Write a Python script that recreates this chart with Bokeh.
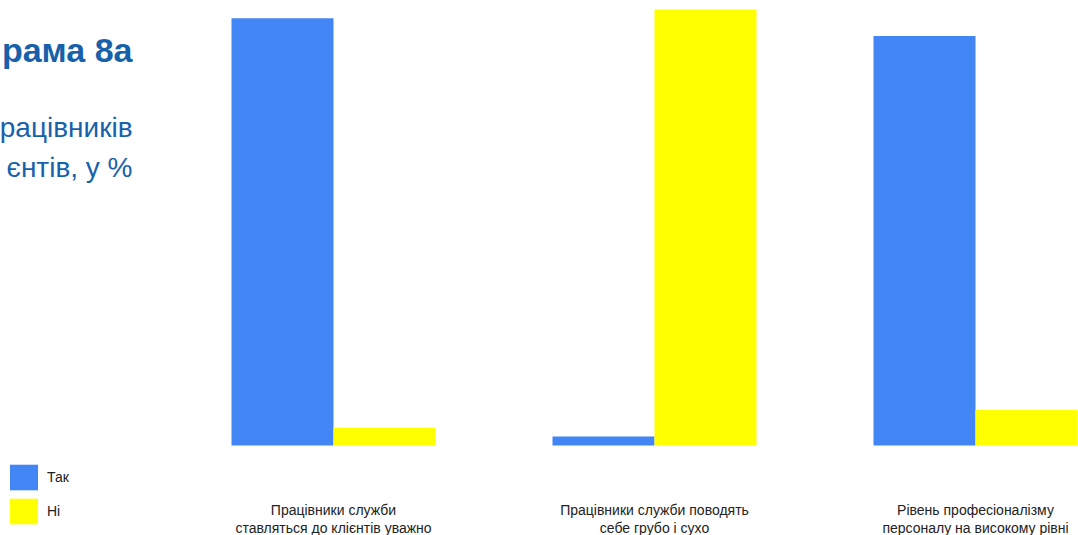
from bokeh.plotting import figure
from bokeh.models import Range1d, Legend, LegendItem, ColumnDataSource
from bokeh.core.properties import value
from bokeh.embed import file_html
from bokeh.resources import INLINE

categories = [
    "Працівники служби\nставляться до клієнтів уважно",
    "Працівники служби поводять\nсебе грубо і сухо",
    "Рівень професіоналізму\nперсоналу на високому рівні",
]
series_names = ["Так", "Ні"]
tak = [96, 2, 92]
ni = [4, 98, 8]
title_text = "рама 8а"
subtitle_lines = ["рацівників", "єнтів, у %"]

W, H = 1078, 535
group_px = 321.0
first_center_px = 333.0
base_px = 445.0
px_per_unit = base_px / 100.0

x0 = -first_center_px / group_px
x1 = (W - first_center_px) / group_px
y0 = -(H - base_px) / px_per_unit


def dx(px):
    return x0 + px / group_px


def dy(py):
    return (base_px - py) / px_per_unit


p = figure(width=W, height=H, output_backend="svg", toolbar_location=None,
           x_range=Range1d(x0, x1), y_range=Range1d(y0, 100),
           x_axis_location=None, y_axis_location=None, min_border=0)
p.outline_line_color = None
p.xgrid.visible = False
p.ygrid.visible = False
p.background_fill_color = "white"
p.border_fill_color = "white"

idx = list(range(len(categories)))
bw = 102.0 / group_px
off = bw / 2

src = ColumnDataSource(dict(
    x_tak=[i - off for i in idx], x_ni=[i + off for i in idx],
    tak=tak, ni=ni))
r_tak = p.vbar(x="x_tak", top="tak", bottom=0, width=bw, source=src,
               fill_color="#4285F4", line_color=None)
r_ni = p.vbar(x="x_ni", top="ni", bottom=0, width=bw, source=src,
              fill_color="#FFFF00", line_color=None)

lab_src = ColumnDataSource(dict(x=idx, y=[dy(501)] * len(idx), t=categories))
p.text(x="x", y="y", text="t", source=lab_src, text_align="center", text_baseline="top",
       text_font=value("Liberation Sans"), text_font_size="14px", text_color="#222222",
       text_line_height=1.14)

title_color = "#1761AB"
p.text(x=[dx(132)], y=[dy(49)], text=[title_text], text_align="right", text_baseline="alphabetic",
       text_font=value("Liberation Sans"), text_font_style="bold", text_font_size="34px",
       text_color=title_color)
p.text(x=[dx(132)] * len(subtitle_lines), y=[dy(127 + 39.5 * k) for k in range(len(subtitle_lines))],
       text=subtitle_lines, text_align="right", text_baseline="alphabetic",
       text_font=value("Liberation Sans"), text_font_size="28px", text_color=title_color)

legend = Legend(items=[LegendItem(label=series_names[0], renderers=[r_tak]),
                       LegendItem(label=series_names[1], renderers=[r_ni])],
                location=(6, 8), padding=0, spacing=2, glyph_width=35, glyph_height=32,
                label_standoff=6, label_height=32, border_line_color=None,
                background_fill_alpha=0, label_text_font="Liberation Sans",
                label_text_font_size="14px", label_text_color="#222222")
p.add_layout(legend, "center")

open("out.html", "w").write(file_html(p, INLINE))
